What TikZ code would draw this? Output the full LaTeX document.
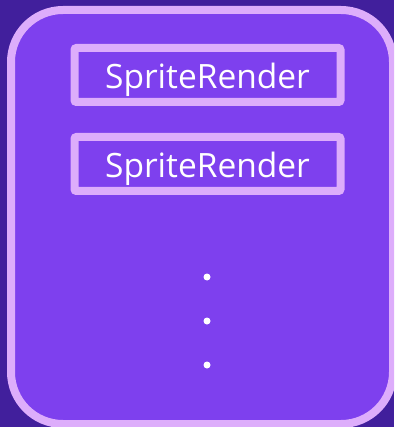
\documentclass[tikz,border=0pt]{standalone}
\usepackage{fontspec}
\setmainfont{Open Sans}
\definecolor{bgdark}{HTML}{411F9C}
\definecolor{panel}{HTML}{7E40EE}
\definecolor{rim}{HTML}{DDADFB}
\tikzset{
  panelbox/.style={draw=rim, fill=panel, line width=8pt, rounded corners=52pt},
  spritebox/.style={draw=rim, line width=8pt, rounded corners=2pt, minimum width=266pt,
    minimum height=54pt, inner sep=0pt},
  spritetext/.style={text=white, inner sep=0pt, anchor=base,
    font=\fontsize{33.5}{36}\selectfont},
  vdot/.style={circle, fill=white, inner sep=0pt, minimum size=7pt}
}
\begin{document}
\begin{tikzpicture}[x=1pt, y=-1pt]
  \useasboundingbox (0,0) rectangle (394,427);
  \fill[bgdark] (0,0) rectangle (394,427);
  \begin{scope}
    \clip (0,0) rectangle (394,427);
    \draw[panelbox] (11,10) rectangle (393,424);
  \end{scope}
  \node[spritebox] (r1) at (207.5,75) {};
  \node[spritetext] (t1) at (207.5,88.5) {SpriteRender};
  \node[spritebox] (r2) at (207.5,164) {};
  \node[spritetext] (t2) at (207.5,177.5) {SpriteRender};
  \node[vdot] (d1) at (207,277) {};
  \node[vdot] (d2) at (207,321) {};
  \node[vdot] (d3) at (207,365) {};
\end{tikzpicture}
\end{document}
